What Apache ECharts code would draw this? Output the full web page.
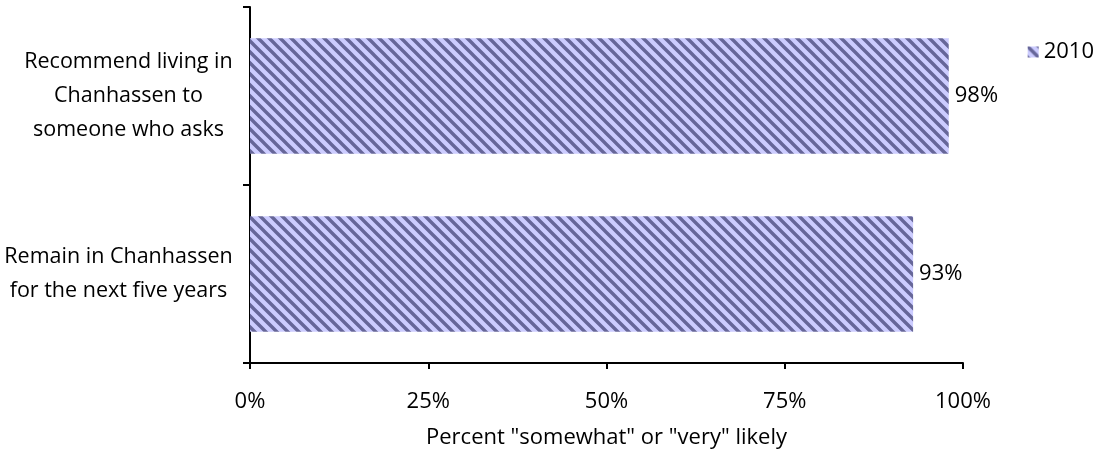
<!DOCTYPE html>
<html>
<head>
<meta charset="utf-8">
<script src="https://cdn.jsdelivr.net/npm/echarts@6/dist/echarts.min.js"></script>
<style>
  html, body { margin: 0; padding: 0; background: #ffffff; }
  #chart { width: 1101px; height: 455px; }
</style>
</head>
<body>
<div id="chart"></div>
<script>
// Survey items (top to bottom) and share answering "somewhat" or "very" likely
const categories = [
  'Recommend living in\nChanhassen to\nsomeone who asks',
  'Remain in Chanhassen\nfor the next five years'
];
const seriesName = '2010';
const values2010 = [98, 93];
const xTicks = [0, 25, 50, 75, 100];

// Diagonal hatch fill: light lavender with dark violet stripes
function hatchPattern() {
  const size = 11;
  const c = document.createElement('canvas');
  c.width = size; c.height = size;
  const ctx = c.getContext('2d');
  ctx.fillStyle = '#ccccff';
  ctx.fillRect(0, 0, size, size);
  ctx.strokeStyle = '#666699';
  ctx.lineWidth = 3.4;
  ctx.beginPath();
  for (let k = -1; k <= 1; k++) {
    ctx.moveTo(k * size - 2, -2);
    ctx.lineTo(k * size + size + 2, size + 2);
  }
  ctx.stroke();
  return { image: c, repeat: 'repeat' };
}

const FONT = '"Open Sans", Lato, sans-serif';
const FS = 22;
const CAT_FS = 21.5;
const fill = hatchPattern();

// Each category label is a right-aligned block whose lines are centred within it
const measureCtx = document.createElement('canvas').getContext('2d');
measureCtx.font = CAT_FS + 'px ' + FONT;
function blockWidth(text) {
  return Math.ceil(Math.max.apply(null, text.split('\n').map(l => measureCtx.measureText(l).width)));
}
function blockLabel(text) {
  const w = blockWidth(text);
  return text.split('\n').map(l => '{c' + w + '|' + l + '}').join('\n');
}
const rich = {};
categories.forEach(cat => {
  const w = blockWidth(cat);
  rich['c' + w] = { width: w, align: 'center', fontFamily: FONT, fontSize: CAT_FS, color: '#000', lineHeight: 34 };
});

const chart = echarts.init(document.getElementById('chart'), null, { renderer: 'canvas' });
chart.setOption({
  animation: false,
  backgroundColor: '#ffffff',
  textStyle: { fontFamily: FONT, color: '#000' },
  grid: { left: 250, right: 138, top: 7, bottom: 92, containLabel: false, outerBoundsMode: 'none' },
  legend: {
    right: 2, top: 36,
    itemWidth: 11, itemHeight: 11, itemGap: 6,
    icon: 'rect',
    textStyle: { fontFamily: FONT, fontSize: FS, color: '#000' },
    data: [seriesName]
  },
  xAxis: {
    type: 'value',
    min: xTicks[0], max: xTicks[xTicks.length - 1], interval: 25,
    name: 'Percent "somewhat" or "very" likely',
    nameLocation: 'middle', nameGap: 64,
    nameTextStyle: { fontFamily: FONT, fontSize: FS, color: '#000' },
    axisLine: { show: true, lineStyle: { color: '#000', width: 2 } },
    axisTick: { show: true, length: 6, lineStyle: { color: '#000', width: 2 } },
    axisLabel: { formatter: '{value}%', margin: 28, fontFamily: FONT, fontSize: FS, color: '#000' },
    splitLine: { show: false }
  },
  yAxis: {
    type: 'category',
    inverse: true,
    data: categories,
    axisLine: { show: true, lineStyle: { color: '#000', width: 2 } },
    axisTick: { show: true, length: 7, lineStyle: { color: '#000', width: 2 } },
    axisLabel: {
      align: 'right', margin: 17,
      formatter: blockLabel,
      rich: rich,
      fontFamily: FONT, fontSize: CAT_FS, color: '#000', lineHeight: 34
    }
  },
  series: [{
    name: seriesName,
    type: 'bar',
    data: values2010,
    barCategoryGap: '35%',
    itemStyle: { color: fill },
    label: {
      show: true, position: 'right', distance: 6,
      formatter: '{c}%',
      fontFamily: FONT, fontSize: FS, color: '#000'
    }
  }]
});
</script>
</body>
</html>
